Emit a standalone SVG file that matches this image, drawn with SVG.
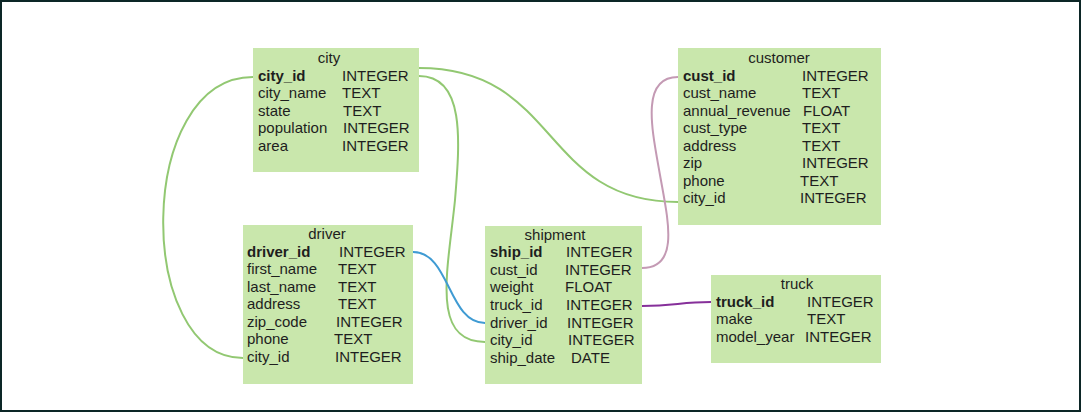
<svg xmlns="http://www.w3.org/2000/svg" width="1081" height="412" viewBox="0 0 1081 412">
<style>
.box{fill:#c9e7ac}
text{font-family:"Liberation Sans",Arial,sans-serif;font-size:15px;fill:#1e1e1e}
.t{text-anchor:middle}
.k{font-weight:bold}
.c{fill:none;stroke-width:2;stroke-linecap:round}
.g{stroke:#92c872}
.b{stroke:#3f9bd3}
.p{stroke:#c49ab4}
.v{stroke:#86309a}
</style>
<rect x="1" y="1" width="1079" height="410" fill="#ffffff" stroke="#0c2626" stroke-width="2"/>
<g id="connectors">
<path class="c g" d="M253,77 C135,77 135,358 243,358"/>
<path class="c g" d="M419,68 C560,68 540,202 678,202"/>
<path class="c g" d="M419,76 C465,76 460,140 455,200 C448,270 430,342 485,342"/>
<path class="c b" d="M413,252 C450,252 448,323 485,323"/>
<path class="c p" d="M678,77 C640,77 652,130 660,175 C668,220 680,268 642,268"/>
<path class="c v" d="M642,306 C675,306 680,302 711,302"/>
</g>
<g id="city">
<rect class="box" x="253" y="48" width="166" height="124"/>
<text class="t" x="329" y="63">city</text>
<text class="k" x="258" y="81">city_id</text><text x="342" y="81">INTEGER</text>
<text x="258" y="98">city_name</text><text x="342" y="98">TEXT</text>
<text x="258" y="116">state</text><text x="343" y="116">TEXT</text>
<text x="258" y="133">population</text><text x="343" y="133">INTEGER</text>
<text x="258" y="151">area</text><text x="342" y="151">INTEGER</text>
</g>
<g id="customer">
<rect class="box" x="678" y="48" width="203" height="177"/>
<text class="t" x="779" y="63">customer</text>
<text class="k" x="683" y="81">cust_id</text><text x="802" y="81">INTEGER</text>
<text x="683" y="98">cust_name</text><text x="802" y="98">TEXT</text>
<text x="683" y="116">annual_revenue</text><text x="803" y="116">FLOAT</text>
<text x="683" y="133">cust_type</text><text x="802" y="133">TEXT</text>
<text x="683" y="151">address</text><text x="802" y="151">TEXT</text>
<text x="683" y="168">zip</text><text x="802" y="168">INTEGER</text>
<text x="683" y="186">phone</text><text x="800" y="186">TEXT</text>
<text x="683" y="203">city_id</text><text x="800" y="203">INTEGER</text>
</g>
<g id="driver">
<rect class="box" x="243" y="225" width="170" height="159"/>
<text class="t" x="327" y="239">driver</text>
<text class="k" x="247" y="257">driver_id</text><text x="339" y="257">INTEGER</text>
<text x="247" y="274">first_name</text><text x="338" y="274">TEXT</text>
<text x="247" y="292">last_name</text><text x="338" y="292">TEXT</text>
<text x="247" y="309">address</text><text x="338" y="309">TEXT</text>
<text x="247" y="327">zip_code</text><text x="336" y="327">INTEGER</text>
<text x="247" y="344">phone</text><text x="334" y="344">TEXT</text>
<text x="247" y="362">city_id</text><text x="335" y="362">INTEGER</text>
</g>
<g id="shipment">
<rect class="box" x="485" y="226" width="157" height="158"/>
<text class="t" x="555" y="240">shipment</text>
<text class="k" x="490" y="257">ship_id</text><text x="566" y="257">INTEGER</text>
<text x="490" y="275">cust_id</text><text x="565" y="275">INTEGER</text>
<text x="490" y="292">weight</text><text x="565" y="292">FLOAT</text>
<text x="490" y="310">truck_id</text><text x="566" y="310">INTEGER</text>
<text x="490" y="328">driver_id</text><text x="567" y="328">INTEGER</text>
<text x="490" y="345">city_id</text><text x="568" y="345">INTEGER</text>
<text x="490" y="363">ship_date</text><text x="571" y="363">DATE</text>
</g>
<g id="truck">
<rect class="box" x="711" y="275" width="170" height="88"/>
<text class="t" x="797" y="289">truck</text>
<text class="k" x="716" y="307">truck_id</text><text x="807" y="307">INTEGER</text>
<text x="716" y="324">make</text><text x="807" y="324">TEXT</text>
<text x="716" y="342">model_year</text><text x="805" y="342">INTEGER</text>
</g>
</svg>
